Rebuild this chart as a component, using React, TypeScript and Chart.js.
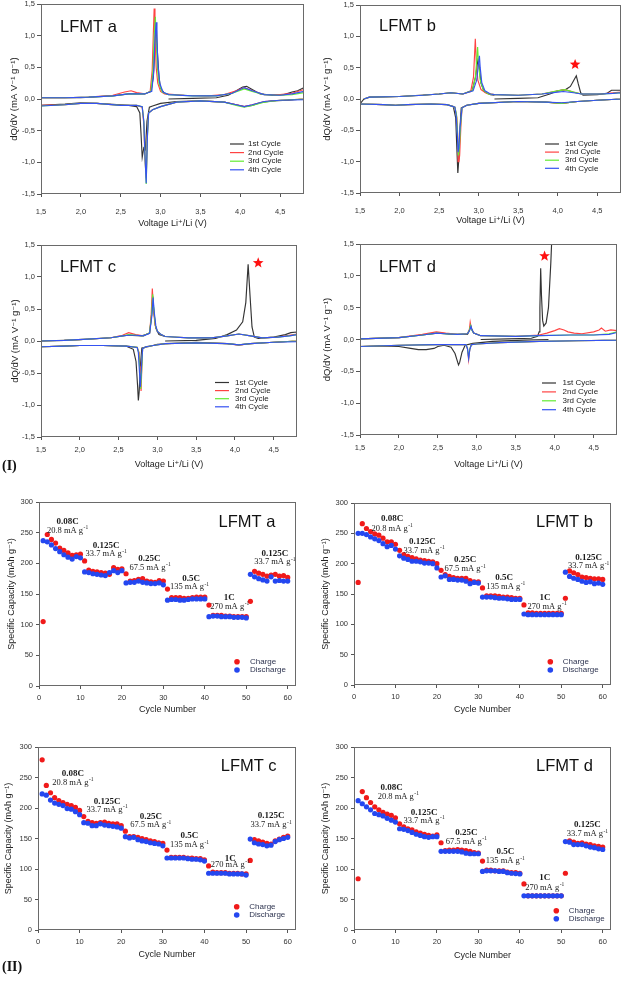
import React, { useEffect, useRef } from 'react';
import { Chart, registerables } from 'chart.js';

Chart.register(...registerables);

type Pt = [number, number];

const SANS = '"Liberation Sans", Arial, "DejaVu Sans", sans-serif';
const SERIF = '"Liberation Serif", "Times New Roman", serif';

// ---------------- Part (I): dQ/dV ----------------
const voltageTicks = [1.5, 2.0, 2.5, 3.0, 3.5, 4.0, 4.5];
const dqdvTicks = [-1.5, -1.0, -0.5, 0.0, 0.5, 1.0, 1.5];
const cycleLabels = ['1st Cycle', '2nd Cycle', '3rd Cycle', '4th Cycle'];
const cycleColors = ['#333333', '#ff4343', '#63ec34', '#3552f2'];

// LFMT a
const aCycle1: Pt[] = [
  [3.10, 0.00], [3.40, 0.01], [3.70, 0.02], [3.85, 0.06], [3.95, 0.13], [4.03, 0.19], [4.08, 0.20], [4.15, 0.15], [4.25, 0.08], [4.40, 0.06], [4.55, 0.07], [4.65, 0.11], [4.72, 0.13], [4.80, 0.18],
  [4.80, 0.00], [4.60, -0.02], [4.40, -0.03], [4.25, -0.06], [4.15, -0.10], [4.05, -0.12], [3.95, -0.09], [3.80, -0.05], [3.50, -0.03], [3.20, -0.04], [3.00, -0.07], [2.90, -0.11], [2.86, -0.13], [2.83, -0.35], [2.81, -0.80], [2.79, -0.77], [2.77, -0.92], [2.755, -0.55], [2.74, -0.22], [2.70, -0.12], [2.60, -0.10], [2.50, -0.09], [2.20, -0.07], [2.00, -0.06], [1.80, -0.08], [1.50, -0.10],
  [1.50, 0.02], [2.00, 0.02], [2.40, 0.05], [2.60, 0.08], [2.80, 0.08], [2.88, 0.12], [2.91, 0.35], [2.93, 0.85], [2.945, 1.20], [2.96, 0.75], [2.98, 0.35], [3.00, 0.17], [3.05, 0.09], [3.10, 0.07],
];
const aCycle2: Pt[] = [
  [1.50, 0.02], [1.80, 0.02], [2.10, 0.03], [2.40, 0.06], [2.55, 0.11], [2.63, 0.13], [2.70, 0.10], [2.80, 0.08], [2.87, 0.12], [2.895, 0.45], [2.91, 1.05], [2.92, 1.43], [2.93, 1.00], [2.945, 0.50], [2.965, 0.25], [3.00, 0.12], [3.05, 0.08], [3.30, 0.06], [3.60, 0.05], [3.80, 0.07], [3.95, 0.13], [4.05, 0.18], [4.15, 0.13], [4.30, 0.07], [4.50, 0.07], [4.65, 0.09], [4.80, 0.15],
  [4.80, 0.00], [4.50, -0.02], [4.30, -0.04], [4.15, -0.09], [4.05, -0.12], [3.95, -0.09], [3.80, -0.05], [3.50, -0.03], [3.20, -0.05], [3.00, -0.12], [2.90, -0.17], [2.85, -0.22], [2.835, -0.55], [2.82, -1.25], [2.805, -0.95], [2.79, -0.40], [2.77, -0.13], [2.70, -0.10], [2.50, -0.10], [2.20, -0.07], [2.00, -0.07], [1.80, -0.09], [1.50, -0.10],
];
const aCycle3: Pt[] = [
  [1.50, 0.02], [1.80, 0.02], [2.10, 0.03], [2.40, 0.05], [2.60, 0.08], [2.80, 0.08], [2.88, 0.12], [2.905, 0.45], [2.92, 1.00], [2.935, 1.30], [2.945, 0.95], [2.96, 0.50], [2.98, 0.25], [3.02, 0.11], [3.10, 0.07], [3.40, 0.05], [3.70, 0.05], [3.90, 0.09], [4.05, 0.16], [4.15, 0.12], [4.30, 0.07], [4.50, 0.06], [4.65, 0.07], [4.80, 0.10],
  [4.80, 0.00], [4.50, -0.02], [4.30, -0.05], [4.15, -0.10], [4.05, -0.13], [3.95, -0.10], [3.80, -0.05], [3.50, -0.03], [3.20, -0.05], [3.00, -0.12], [2.90, -0.17], [2.85, -0.22], [2.835, -0.60], [2.82, -1.34], [2.805, -0.90], [2.79, -0.35], [2.77, -0.12], [2.70, -0.10], [2.50, -0.10], [2.20, -0.07], [2.00, -0.07], [1.80, -0.09], [1.50, -0.11],
];
const aCycle4: Pt[] = [
  [1.50, 0.02], [1.80, 0.02], [2.10, 0.03], [2.40, 0.05], [2.60, 0.08], [2.80, 0.08], [2.89, 0.12], [2.915, 0.45], [2.93, 0.95], [2.945, 1.21], [2.955, 0.90], [2.97, 0.50], [2.99, 0.25], [3.03, 0.11], [3.10, 0.07], [3.40, 0.05], [3.70, 0.05], [3.90, 0.09], [4.05, 0.18], [4.15, 0.13], [4.30, 0.07], [4.50, 0.06], [4.65, 0.08], [4.80, 0.12],
  [4.80, -0.01], [4.50, -0.02], [4.30, -0.04], [4.15, -0.09], [4.05, -0.12], [3.95, -0.09], [3.80, -0.05], [3.50, -0.03], [3.20, -0.05], [3.00, -0.12], [2.90, -0.17], [2.85, -0.22], [2.835, -0.60], [2.82, -1.33], [2.805, -0.90], [2.79, -0.35], [2.77, -0.12], [2.70, -0.10], [2.50, -0.10], [2.20, -0.07], [2.00, -0.07], [1.80, -0.09], [1.50, -0.11],
];

// LFMT b
const bCycle1: Pt[] = [
  [3.20, 0.00], [3.50, 0.01], [3.75, 0.02], [3.90, 0.08], [4.00, 0.13], [4.10, 0.15], [4.16, 0.20], [4.20, 0.29], [4.235, 0.37], [4.26, 0.24], [4.29, 0.10], [4.32, 0.06], [4.50, 0.07], [4.62, 0.09], [4.68, 0.14], [4.80, 0.14],
  [4.80, 0.00], [4.50, -0.02], [4.25, -0.04], [4.05, -0.07], [3.85, -0.05], [3.50, -0.04], [3.00, -0.07], [2.85, -0.10], [2.78, -0.14], [2.765, -0.45], [2.75, -0.95], [2.737, -1.18], [2.725, -0.80], [2.71, -0.30], [2.68, -0.12], [2.60, -0.09], [2.40, -0.08], [2.10, -0.09], [1.95, -0.10], [1.80, -0.09], [1.50, -0.08],
  [1.55, 0.00], [1.62, 0.03], [2.00, 0.04], [2.50, 0.08], [2.65, 0.10], [2.80, 0.08], [2.92, 0.14], [2.96, 0.35], [2.99, 0.62], [3.005, 0.55], [3.03, 0.25], [3.07, 0.12], [3.15, 0.07], [3.20, 0.06],
];
const bCycle2: Pt[] = [
  [1.55, 0.00], [1.62, 0.03], [2.00, 0.04], [2.30, 0.06], [2.50, 0.08], [2.65, 0.10], [2.80, 0.08], [2.90, 0.12], [2.935, 0.35], [2.95, 0.75], [2.958, 0.96], [2.97, 0.60], [2.99, 0.30], [3.03, 0.15], [3.10, 0.09], [3.20, 0.07], [3.50, 0.06], [3.80, 0.08], [4.00, 0.13], [4.09, 0.15], [4.20, 0.11], [4.30, 0.08], [4.55, 0.08], [4.70, 0.10], [4.80, 0.11],
  [4.80, 0.00], [4.50, -0.02], [4.25, -0.04], [4.05, -0.07], [3.85, -0.05], [3.50, -0.04], [3.00, -0.07], [2.85, -0.10], [2.79, -0.14], [2.775, -0.45], [2.76, -0.90], [2.75, -1.00], [2.74, -0.70], [2.725, -0.30], [2.70, -0.13], [2.60, -0.09], [2.40, -0.08], [2.10, -0.09], [1.95, -0.10], [1.80, -0.09], [1.50, -0.08],
];
const bCycle3: Pt[] = [
  [1.55, 0.00], [1.62, 0.03], [2.00, 0.04], [2.30, 0.06], [2.50, 0.08], [2.65, 0.10], [2.80, 0.08], [2.92, 0.13], [2.96, 0.35], [2.977, 0.65], [2.987, 0.83], [2.997, 0.60], [3.02, 0.30], [3.06, 0.14], [3.12, 0.08], [3.20, 0.07], [3.50, 0.06], [3.80, 0.08], [4.00, 0.13], [4.09, 0.15], [4.20, 0.11], [4.30, 0.08], [4.55, 0.08], [4.70, 0.09], [4.80, 0.10],
  [4.80, 0.00], [4.50, -0.02], [4.25, -0.04], [4.05, -0.07], [3.85, -0.05], [3.50, -0.04], [3.00, -0.07], [2.85, -0.10], [2.79, -0.14], [2.77, -0.45], [2.755, -0.80], [2.745, -0.90], [2.735, -0.60], [2.72, -0.25], [2.70, -0.13], [2.60, -0.09], [2.40, -0.08], [2.10, -0.09], [1.95, -0.10], [1.80, -0.09], [1.50, -0.08],
];
const bCycle4: Pt[] = [
  [1.55, 0.00], [1.62, 0.03], [2.00, 0.04], [2.30, 0.06], [2.50, 0.08], [2.65, 0.10], [2.80, 0.08], [2.93, 0.13], [2.975, 0.30], [2.997, 0.55], [3.01, 0.69], [3.02, 0.50], [3.04, 0.26], [3.08, 0.13], [3.15, 0.08], [3.20, 0.07], [3.50, 0.06], [3.80, 0.08], [4.00, 0.11], [4.07, 0.12], [4.20, 0.10], [4.30, 0.08], [4.55, 0.08], [4.70, 0.09], [4.80, 0.10],
  [4.80, 0.00], [4.50, -0.02], [4.25, -0.04], [4.05, -0.06], [3.85, -0.05], [3.50, -0.04], [3.00, -0.07], [2.85, -0.10], [2.79, -0.14], [2.765, -0.45], [2.75, -0.78], [2.74, -0.85], [2.73, -0.55], [2.715, -0.25], [2.70, -0.13], [2.60, -0.09], [2.40, -0.08], [2.10, -0.09], [1.95, -0.10], [1.80, -0.09], [1.50, -0.08],
];

// LFMT c
const cCycle1: Pt[] = [
  [3.10, 0.00], [3.50, 0.01], [3.75, 0.04], [3.90, 0.10], [4.02, 0.17], [4.10, 0.30], [4.14, 0.60], [4.17, 1.20], [4.195, 0.70], [4.22, 0.22], [4.25, 0.06], [4.30, 0.04], [4.50, 0.06], [4.65, 0.10], [4.72, 0.13], [4.80, 0.14],
  [4.80, 0.00], [4.50, -0.02], [4.20, -0.04], [4.05, -0.06], [3.90, -0.04], [3.50, -0.02], [3.00, -0.05], [2.88, -0.09], [2.80, -0.11], [2.78, -0.40], [2.765, -0.80], [2.755, -0.93], [2.745, -0.70], [2.725, -0.32], [2.69, -0.13], [2.60, -0.08], [2.30, -0.07], [2.00, -0.07], [1.80, -0.08], [1.50, -0.09],
  [1.50, 0.00], [2.00, 0.02], [2.40, 0.05], [2.62, 0.09], [2.80, 0.08], [2.90, 0.12], [2.925, 0.40], [2.94, 0.70], [2.955, 0.45], [2.98, 0.20], [3.02, 0.10], [3.10, 0.07],
];
const cCycle2: Pt[] = [
  [1.50, 0.00], [1.80, 0.01], [2.10, 0.03], [2.40, 0.05], [2.55, 0.09], [2.63, 0.13], [2.72, 0.10], [2.82, 0.08], [2.90, 0.13], [2.92, 0.40], [2.935, 0.82], [2.95, 0.50], [2.97, 0.25], [3.00, 0.15], [3.05, 0.10], [3.10, 0.07], [3.40, 0.05], [3.70, 0.05], [3.90, 0.08], [4.05, 0.11], [4.20, 0.08], [4.35, 0.05], [4.55, 0.06], [4.70, 0.09], [4.80, 0.11],
  [4.80, 0.00], [4.50, -0.02], [4.20, -0.04], [4.05, -0.065], [3.90, -0.04], [3.50, -0.03], [3.10, -0.04], [2.95, -0.07], [2.85, -0.09], [2.81, -0.12], [2.80, -0.40], [2.79, -0.78], [2.78, -0.55], [2.765, -0.18], [2.74, -0.10], [2.60, -0.08], [2.30, -0.07], [2.00, -0.07], [1.80, -0.08], [1.50, -0.09],
];
const cCycle3: Pt[] = [
  [1.50, 0.00], [1.80, 0.01], [2.10, 0.03], [2.40, 0.05], [2.55, 0.08], [2.63, 0.10], [2.72, 0.09], [2.82, 0.08], [2.90, 0.13], [2.925, 0.40], [2.94, 0.73], [2.955, 0.48], [2.975, 0.24], [3.00, 0.15], [3.05, 0.10], [3.10, 0.07], [3.40, 0.05], [3.70, 0.05], [3.90, 0.08], [4.05, 0.11], [4.20, 0.08], [4.35, 0.05], [4.55, 0.06], [4.70, 0.08], [4.80, 0.10],
  [4.80, 0.00], [4.50, -0.02], [4.20, -0.04], [4.05, -0.06], [3.90, -0.04], [3.50, -0.03], [3.10, -0.04], [2.95, -0.07], [2.85, -0.09], [2.81, -0.12], [2.80, -0.40], [2.785, -0.75], [2.775, -0.50], [2.76, -0.18], [2.74, -0.10], [2.60, -0.08], [2.30, -0.07], [2.00, -0.07], [1.80, -0.08], [1.50, -0.09],
];
const cCycle4: Pt[] = [
  [1.50, 0.00], [1.80, 0.01], [2.10, 0.03], [2.40, 0.05], [2.55, 0.08], [2.63, 0.09], [2.72, 0.09], [2.82, 0.08], [2.90, 0.12], [2.93, 0.40], [2.945, 0.68], [2.96, 0.45], [2.98, 0.24], [3.00, 0.15], [3.05, 0.10], [3.10, 0.07], [3.40, 0.05], [3.70, 0.05], [3.90, 0.08], [4.05, 0.11], [4.20, 0.08], [4.35, 0.05], [4.55, 0.06], [4.70, 0.08], [4.80, 0.10],
  [4.80, -0.01], [4.50, -0.02], [4.20, -0.04], [4.05, -0.06], [3.90, -0.04], [3.50, -0.03], [3.10, -0.04], [2.95, -0.07], [2.85, -0.09], [2.81, -0.12], [2.795, -0.40], [2.78, -0.72], [2.77, -0.50], [2.755, -0.18], [2.74, -0.10], [2.60, -0.08], [2.30, -0.07], [2.00, -0.07], [1.80, -0.08], [1.50, -0.09],
];

// LFMT d
const dCycle1Start: Pt[] = [
  [3.05, 0.00], [3.40, 0.01], [3.70, 0.02], [3.78, 0.05], [3.80, 0.12], [3.81, 0.50], [3.82, 1.12], [3.83, 0.70], [3.845, 0.30], [3.86, 0.21], [3.89, 0.26], [3.92, 0.50], [3.95, 1.20], [3.97, 1.80], [3.99, 2.40],
];
const dCycle1: Pt[] = [
  [3.92, 0.00], [3.60, -0.01], [3.20, -0.03], [2.95, -0.06], [2.85, -0.09], [2.81, -0.20], [2.78, -0.36], [2.765, -0.40], [2.745, -0.32], [2.72, -0.22], [2.67, -0.12], [2.58, -0.09], [2.50, -0.11], [2.45, -0.14], [2.35, -0.16], [2.25, -0.16], [2.15, -0.14], [2.00, -0.11], [1.80, -0.10], [1.50, -0.11],
  [1.50, 0.01], [2.00, 0.03], [2.30, 0.07], [2.50, 0.10], [2.70, 0.08], [2.88, 0.08], [2.905, 0.14], [2.92, 0.22], [2.935, 0.16], [2.96, 0.10], [3.05, 0.06],
];
const dCycle2: Pt[] = [
  [1.50, 0.01], [2.00, 0.03], [2.30, 0.08], [2.48, 0.12], [2.60, 0.10], [2.75, 0.08], [2.88, 0.09], [2.905, 0.16], [2.915, 0.27], [2.93, 0.17], [2.96, 0.10], [3.05, 0.06], [3.50, 0.05], [3.80, 0.07], [3.90, 0.10], [4.00, 0.14], [4.06, 0.17], [4.12, 0.15], [4.17, 0.12], [4.25, 0.10], [4.35, 0.09], [4.50, 0.12], [4.57, 0.15], [4.60, 0.18], [4.65, 0.13], [4.72, 0.15], [4.80, 0.14],
  [4.80, -0.01], [4.30, -0.02], [3.80, -0.03], [3.30, -0.05], [3.00, -0.07], [2.93, -0.08], [2.91, -0.15], [2.895, -0.32], [2.88, -0.15], [2.86, -0.08], [2.70, -0.08], [2.50, -0.08], [2.00, -0.09], [1.50, -0.11],
];
const dCycle3: Pt[] = [
  [1.50, 0.01], [2.00, 0.03], [2.30, 0.07], [2.48, 0.10], [2.60, 0.09], [2.75, 0.08], [2.88, 0.09], [2.905, 0.15], [2.92, 0.22], [2.935, 0.15], [2.96, 0.10], [3.05, 0.06], [3.50, 0.05], [3.80, 0.06], [4.20, 0.07], [4.50, 0.07], [4.70, 0.09], [4.80, 0.12],
  [4.80, -0.01], [4.30, -0.02], [3.80, -0.03], [3.30, -0.05], [3.00, -0.07], [2.93, -0.08], [2.91, -0.15], [2.895, -0.28], [2.88, -0.14], [2.86, -0.08], [2.70, -0.08], [2.50, -0.08], [2.00, -0.09], [1.50, -0.11],
];
const dCycle4: Pt[] = [
  [1.50, 0.01], [2.00, 0.03], [2.30, 0.07], [2.48, 0.10], [2.60, 0.09], [2.75, 0.08], [2.88, 0.09], [2.91, 0.15], [2.925, 0.21], [2.94, 0.15], [2.96, 0.10], [3.05, 0.06], [3.50, 0.05], [3.80, 0.06], [4.20, 0.07], [4.50, 0.07], [4.70, 0.08], [4.80, 0.11],
  [4.80, -0.01], [4.30, -0.02], [3.80, -0.03], [3.30, -0.05], [3.00, -0.07], [2.93, -0.08], [2.91, -0.16], [2.895, -0.30], [2.88, -0.14], [2.86, -0.08], [2.70, -0.08], [2.50, -0.08], [2.00, -0.09], [1.50, -0.11],
];

// star markers (V, dQ/dV)
const starB: Pt[] = [[4.22, 0.55]];
const starC: Pt[] = [[4.30, 1.22]];
const starD: Pt[] = [[3.87, 1.31]];

// ---------------- Part (II): rate capability ----------------
const cycleNumbers = [
  1, 2, 3, 4, 5, 6, 7, 8, 9, 10, 11, 12, 13, 14, 15, 16, 17, 18, 19, 20,
  21, 22, 23, 24, 25, 26, 27, 28, 29, 30, 31, 32, 33, 34, 35, 36, 37, 38, 39, 40,
  41, 42, 43, 44, 45, 46, 47, 48, 49, 50, 51, 52, 53, 54, 55, 56, 57, 58, 59, 60,
];
const cycleTicks = [0, 10, 20, 30, 40, 50, 60];
const capacityTicks = [0, 50, 100, 150, 200, 250, 300];

const aCharge = [105, 247, 239, 233, 225, 221, 217, 213, 214, 215, 204, 189, 187, 186, 185, 184, 182, 193, 190, 191, 183, 171, 172, 174, 175, 171, 170, 169, 172, 171, 158, 144, 144, 144, 143, 143, 144, 145, 145, 145, 132, 115, 115, 115, 114, 114, 113, 113, 113, 113, 138, 187, 184, 182, 179, 181, 182, 179, 180, 177];
const aDischarge = [237, 235, 230, 224, 219, 214, 210, 207, 211, 209, 186, 185, 183, 182, 181, 180, 185, 188, 185, 188, 168, 169, 169, 171, 169, 168, 167, 167, 168, 165, 140, 141, 141, 140, 140, 141, 142, 142, 142, 142, 113, 114, 114, 113, 113, 113, 112, 112, 112, 111, 182, 178, 175, 173, 171, 178, 171, 172, 171, 171];
const bCharge = [169, 266, 258, 253, 249, 247, 242, 236, 236, 232, 222, 215, 212, 210, 208, 206, 205, 204, 203, 200, 189, 182, 179, 177, 176, 176, 176, 172, 170, 170, 160, 147, 147, 147, 146, 145, 145, 144, 143, 143, 132, 119, 119, 118, 118, 118, 118, 118, 118, 118, 143, 188, 185, 182, 178, 177, 176, 175, 175, 174];
const bDischarge = [250, 250, 248, 244, 241, 238, 233, 228, 230, 224, 213, 209, 207, 204, 204, 203, 201, 201, 200, 193, 178, 180, 174, 174, 173, 173, 171, 167, 169, 168, 145, 145, 145, 144, 143, 143, 142, 141, 141, 141, 117, 116, 116, 116, 116, 116, 116, 116, 116, 116, 186, 179, 176, 174, 171, 169, 170, 167, 168, 166];
const cCharge = [279, 237, 225, 217, 212, 209, 206, 204, 201, 196, 186, 178, 176, 175, 176, 177, 175, 174, 174, 171, 162, 153, 153, 152, 150, 148, 146, 145, 143, 142, 131, 119, 119, 119, 119, 118, 118, 117, 117, 115, 105, 95, 94, 94, 94, 93, 93, 93, 92, 92, 114, 148, 146, 144, 142, 141, 146, 149, 152, 154];
const cDischarge = [223, 221, 213, 208, 206, 204, 199, 198, 194, 189, 176, 175, 171, 171, 174, 172, 171, 170, 169, 167, 153, 151, 152, 148, 146, 145, 143, 142, 141, 138, 118, 118, 118, 118, 118, 117, 116, 116, 115, 113, 93, 93, 93, 93, 93, 92, 92, 92, 92, 90, 149, 143, 141, 140, 138, 139, 145, 148, 150, 152];
const dCharge = [84, 227, 217, 209, 202, 197, 193, 190, 188, 184, 174, 169, 166, 164, 161, 159, 157, 155, 154, 156, 143, 130, 131, 131, 132, 131, 130, 129, 127, 126, 113, 98, 98, 97, 97, 97, 95, 94, 94, 93, 75.5, 56, 56, 56, 56, 56, 56, 56, 56, 56, 93, 146, 144, 142, 143, 141, 140, 138, 137, 136];
const dDischarge = [212, 207, 202, 197, 191, 189, 187, 183, 180, 177, 166, 165, 163, 160, 157, 155, 153, 152, 153, 153, 129, 129, 129, 129, 129, 128, 126, 125, 125, 125, 96, 97, 97, 97, 96, 96, 94, 93, 92.5, 92, 56, 56, 56, 56, 56, 56, 56, 56, 56, 56, 145, 144, 140, 140, 140, 138, 136, 135, 133, 132];

const rateLabels = ['0.08C', '0.125C', '0.25C', '0.5C', '1C', '0.125C'];
const currentLabels = ['20.8 mA g', '33.7 mA g', '67.5 mA g', '135 mA g', '270 mA g', '33.7 mA g'];
const seriesLabels = ['Charge', 'Discharge'];
const seriesColors = ['#f01a1a', '#2447f0'];

// annotation anchors (cycle, capacity) per panel
const aRateX = [6.9, 16.2, 26.6, 36.7, 45.9, 56.9];
const aRateY = [268, 229, 208, 175.6, 144, 216];
const aCurX = [6.9, 16.2, 26.8, 36.3, 46.0, 56.9];
const aCurY = [253, 215, 193, 161, 130, 202];
const bRateX = [9.2, 16.5, 26.8, 36.2, 46.1, 56.6];
const bRateY = [273.6, 236, 206, 177, 144.6, 210];
const bCurX = [9.2, 16.9, 26.8, 36.6, 46.6, 56.6];
const bCurY = [257.7, 221, 191, 161.5, 129, 196];
const cRateX = [8.4, 16.6, 27.1, 36.4, 46.2, 56.0];
const cRateY = [255.7, 211, 185.7, 154.6, 117.5, 187];
const cCurX = [8.4, 16.6, 27.1, 36.4, 46.2, 56.0];
const cCurY = [241, 196.7, 172, 139, 106.5, 172];
const dRateX = [9.1, 16.9, 27.1, 36.5, 46.0, 56.3];
const dRateY = [234, 193, 160, 128.4, 85.7, 172];
const dCurX = [10.7, 16.9, 27.1, 36.5, 46.0, 56.3];
const dCurY = [219, 179, 144.8, 113, 69, 157];

// ---------------- drawing helpers ----------------
type Geom = {
  box: { x: number; y: number; w: number; h: number };
  plot: { l: number; t: number; r: number; b: number };
  yTitleX: number;
  xTitleY: number;
};

function computeLayout(g: Geom, ySize: number, xSize: number) {
  const padL = g.yTitleX - 0.6 * ySize - g.box.x;
  const yW = g.plot.l - g.box.x - padL;
  const padT = g.plot.t - g.box.y;
  const padR = g.box.x + g.box.w - g.plot.r;
  const padB = g.box.y + g.box.h - (g.xTitleY + 0.6 * xSize);
  const xH = g.box.y + g.box.h - padB - g.plot.b;
  return { padL, padT, padR, padB, yW, xH };
}

function drawStar(ctx: CanvasRenderingContext2D, cx: number, cy: number, ro: number, ri: number) {
  ctx.beginPath();
  for (let i = 0; i < 10; i++) {
    const r = i % 2 === 0 ? ro : ri;
    const a = -Math.PI / 2 + (i * Math.PI) / 5;
    const px = cx + r * Math.cos(a);
    const py = cy + r * Math.sin(a);
    if (i === 0) ctx.moveTo(px, py);
    else ctx.lineTo(px, py);
  }
  ctx.closePath();
  ctx.fill();
}

function drawSup(ctx: CanvasRenderingContext2D, main: string, sup: string, cx: number, cy: number, mainFont: string, supFont: string) {
  ctx.font = mainFont;
  const w1 = ctx.measureText(main).width;
  ctx.font = supFont;
  const w2 = ctx.measureText(sup).width;
  const x0 = cx - (w1 + w2 + 0.5) / 2;
  ctx.textAlign = 'left';
  ctx.textBaseline = 'middle';
  ctx.font = mainFont;
  ctx.fillText(main, x0, cy);
  ctx.font = supFont;
  ctx.fillText(sup, x0 + w1 + 0.5, cy - 3);
}

type Overlay = {
  label: string;
  labelFromRight: boolean;
  labelX: number;
  labelY: number;
  legendKind: 'line' | 'dot';
  legendX: number; // from chart right
  legendY: number; // from chart bottom
  legendGap: number;
  legendTextDx: number;
  stars: Pt[];
  notes?: { rx: number[]; ry: number[]; cx: number[]; cy: number[] };
};

function makeOverlay(o: Overlay) {
  return {
    id: 'panelOverlay',
    afterDatasetsDraw(chart: any) {
      const { ctx, chartArea: ca, scales } = chart;
      const xs = scales.x;
      const ys = scales.y;
      ctx.save();
      // frame
      ctx.strokeStyle = '#6a6a6a';
      ctx.lineWidth = 1;
      ctx.strokeRect(Math.round(ca.left) + 0.5, Math.round(ca.top) + 0.5, Math.round(ca.right - ca.left) - 1, Math.round(ca.bottom - ca.top) - 1);
      // stars
      ctx.fillStyle = '#ff1010';
      for (const s of o.stars) {
        drawStar(ctx, xs.getPixelForValue(s[0]), ys.getPixelForValue(s[1]), 5.6, 2.4);
      }
      // notes
      if (o.notes) {
        ctx.fillStyle = '#1a1a1a';
        for (let i = 0; i < rateLabels.length; i++) {
          ctx.font = `bold 9px ${SERIF}`;
          ctx.textAlign = 'center';
          ctx.textBaseline = 'middle';
          ctx.fillText(rateLabels[i], xs.getPixelForValue(o.notes.rx[i]), ys.getPixelForValue(o.notes.ry[i]));
          drawSup(ctx, currentLabels[i], '-1', xs.getPixelForValue(o.notes.cx[i]), ys.getPixelForValue(o.notes.cy[i]), `8.5px ${SERIF}`, `5.5px ${SERIF}`);
        }
      }
      // panel label
      ctx.fillStyle = '#111';
      ctx.font = `16.5px ${SANS}`;
      ctx.textAlign = 'left';
      ctx.textBaseline = 'alphabetic';
      const lx = o.labelFromRight ? ca.right + o.labelX : ca.left + o.labelX;
      ctx.fillText(o.label, lx, ca.top + o.labelY);
      // legend
      const names = o.legendKind === 'line' ? cycleLabels : seriesLabels;
      const cols = o.legendKind === 'line' ? cycleColors : seriesColors;
      ctx.font = `8px ${SANS}`;
      ctx.textBaseline = 'middle';
      for (let i = 0; i < names.length; i++) {
        const y = ca.bottom + o.legendY + i * o.legendGap;
        const x = ca.right + o.legendX;
        if (o.legendKind === 'line') {
          ctx.strokeStyle = cols[i];
          ctx.lineWidth = 1.2;
          ctx.beginPath();
          ctx.moveTo(x, y);
          ctx.lineTo(x + 14, y);
          ctx.stroke();
        } else {
          ctx.fillStyle = cols[i];
          ctx.beginPath();
          ctx.arc(x, y, 2.8, 0, Math.PI * 2);
          ctx.fill();
        }
        ctx.fillStyle = o.legendKind === 'line' ? '#222' : '#2e3450';
        ctx.fillText(names[i], x + o.legendTextDx, y);
      }
      ctx.restore();
    },
  };
}

type Panel = {
  kind: 'dq' | 'cap';
  geom: Geom;
  overlay: Overlay;
  cycles?: Pt[][][];
  charge?: number[];
  discharge?: number[];
  labelPad?: number;
};

const fmtComma = (v: number) => v.toFixed(1).replace('.', ',');

function buildConfig(p: Panel): any {
  const isDq = p.kind === 'dq';
  const ySize = isDq ? 9.5 : 9;
  const xSize = 9;
  const L = computeLayout(p.geom, ySize, xSize);
  let datasets: any[] = [];
  if (isDq && p.cycles) {
    const order = [3, 2, 1, 0];
    for (const ci of order) {
      for (const seg of p.cycles[ci]) {
        datasets.push({
          label: cycleLabels[ci],
          data: seg.map(([x, y]) => ({ x, y })),
          showLine: true,
          borderColor: cycleColors[ci],
          backgroundColor: cycleColors[ci],
          borderWidth: 1.15,
          pointRadius: 0,
          tension: 0,
          fill: false,
        });
      }
    }
  } else if (p.charge && p.discharge) {
    datasets = [
      {
        label: seriesLabels[1],
        data: cycleNumbers.map((c, i) => ({ x: c, y: p.discharge![i] })),
        backgroundColor: seriesColors[1],
        borderWidth: 0,
        pointRadius: 2.6,
      },
      {
        label: seriesLabels[0],
        data: cycleNumbers.map((c, i) => ({ x: c, y: p.charge![i] })),
        backgroundColor: seriesColors[0],
        borderWidth: 0,
        pointRadius: 2.6,
      },
    ];
  }
  const tickFont = { family: SANS, size: 7.5 };
  const gridCfg = { drawOnChartArea: false, drawTicks: true, tickLength: 3, color: '#555', lineWidth: 1 };
  return {
    type: 'scatter',
    data: { datasets },
    plugins: [makeOverlay(p.overlay)],
    options: {
      responsive: false,
      animation: false,
      events: [],
      layout: { padding: { left: L.padL, top: L.padT, right: L.padR, bottom: L.padB } },
      plugins: { legend: { display: false }, tooltip: { enabled: false } },
      scales: {
        x: {
          type: 'linear',
          position: 'bottom',
          min: isDq ? 1.5 : 0,
          max: isDq ? 4.8 : 62,
          afterBuildTicks: (s: any) => {
            s.ticks = (isDq ? voltageTicks : cycleTicks).map((v) => ({ value: v }));
          },
          afterFit: (s: any) => {
            s.height = L.xH;
          },
          ticks: {
            autoSkip: false,
            maxRotation: 0,
            font: tickFont,
            color: '#333',
            padding: p.labelPad ?? 4,
            callback: (v: any) => (isDq ? fmtComma(Number(v)) : String(v)),
          },
          grid: gridCfg,
          border: { display: false },
          title: {
            display: true,
            text: isDq ? 'Voltage Li\u207A/Li (V)' : 'Cycle Number',
            font: { family: SANS, size: xSize },
            color: '#222',
            padding: 0,
          },
        },
        y: {
          type: 'linear',
          position: 'left',
          min: isDq ? -1.5 : 0,
          max: isDq ? 1.5 : 300,
          afterBuildTicks: (s: any) => {
            s.ticks = (isDq ? dqdvTicks : capacityTicks).map((v) => ({ value: v }));
          },
          afterFit: (s: any) => {
            s.width = L.yW;
          },
          ticks: {
            autoSkip: false,
            font: tickFont,
            color: '#333',
            padding: isDq ? 2 : 3,
            callback: (v: any) => (isDq ? fmtComma(Number(v)) : String(v)),
          },
          grid: { ...gridCfg, tickLength: isDq ? 4 : 3 },
          border: { display: false },
          title: {
            display: true,
            text: isDq ? 'dQ/dV (mA V\u207B\u00B9 g\u207B\u00B9)' : 'Specific Capacity (mAh g\u207B\u00B9)',
            font: { family: SANS, size: ySize },
            color: '#222',
            padding: 0,
          },
        },
      },
    },
  };
}

const panels: Panel[] = [
  {
    kind: 'dq',
    geom: { box: { x: 0, y: -10, w: 312, h: 242 }, plot: { l: 41, t: 4, r: 304, b: 194 }, yTitleX: 14, xTitleY: 224 },
    cycles: [[aCycle1], [aCycle2], [aCycle3], [aCycle4]],
    labelPad: 10,
    overlay: { label: 'LFMT a', labelFromRight: false, labelX: 19, labelY: 27.5, legendKind: 'line', legendGap: 8.6, legendTextDx: 18, legendX: -74, legendY: -50, stars: [] },
  },
  {
    kind: 'dq',
    geom: { box: { x: 312, y: -10, w: 312, h: 242 }, plot: { l: 360, t: 5, r: 621, b: 193 }, yTitleX: 327, xTitleY: 221 },
    cycles: [[bCycle1], [bCycle2], [bCycle3], [bCycle4]],
    labelPad: 10,
    overlay: { label: 'LFMT b', labelFromRight: false, labelX: 19, labelY: 25.5, legendKind: 'line', legendGap: 8.1, legendTextDx: 20, legendX: -76, legendY: -49, stars: starB },
  },
  {
    kind: 'dq',
    geom: { box: { x: 0, y: 232, w: 312, h: 244 }, plot: { l: 41, t: 245, r: 297, b: 437 }, yTitleX: 15, xTitleY: 465 },
    cycles: [[cCycle1], [cCycle2], [cCycle3], [cCycle4]],
    labelPad: 5,
    overlay: { label: 'LFMT c', labelFromRight: false, labelX: 19, labelY: 26.5, legendKind: 'line', legendGap: 8.1, legendTextDx: 20, legendX: -82, legendY: -54.5, stars: starC },
  },
  {
    kind: 'dq',
    geom: { box: { x: 312, y: 232, w: 312, h: 244 }, plot: { l: 360, t: 244, r: 617, b: 435 }, yTitleX: 327, xTitleY: 465 },
    cycles: [[dCycle1Start, dCycle1], [dCycle2], [dCycle3], [dCycle4]],
    labelPad: 5,
    overlay: { label: 'LFMT d', labelFromRight: false, labelX: 19, labelY: 28, legendKind: 'line', legendGap: 8.9, legendTextDx: 20.5, legendX: -75, legendY: -52, stars: starD },
  },
  {
    kind: 'cap',
    geom: { box: { x: 0, y: 478, w: 312, h: 246 }, plot: { l: 39, t: 502, r: 296, b: 686 }, yTitleX: 12, xTitleY: 710 },
    charge: aCharge,
    discharge: aDischarge,
    overlay: { label: 'LFMT a', labelFromRight: true, labelX: -77.5, labelY: 25.3, legendKind: 'dot', legendGap: 8.3, legendTextDx: 13, legendX: -59, legendY: -24.3, stars: [], notes: { rx: aRateX, ry: aRateY, cx: aCurX, cy: aCurY } },
  },
  {
    kind: 'cap',
    geom: { box: { x: 312, y: 478, w: 312, h: 246 }, plot: { l: 354, t: 503, r: 611, b: 685 }, yTitleX: 325.3, xTitleY: 710 },
    charge: bCharge,
    discharge: bDischarge,
    overlay: { label: 'LFMT b', labelFromRight: true, labelX: -75, labelY: 24.3, legendKind: 'dot', legendGap: 8.3, legendTextDx: 12.4, legendX: -60.7, legendY: -23.3, stars: [], notes: { rx: bRateX, ry: bRateY, cx: bCurX, cy: bCurY } },
  },
  {
    kind: 'cap',
    geom: { box: { x: 0, y: 724, w: 312, h: 256 }, plot: { l: 38, t: 747, r: 296, b: 930 }, yTitleX: 9, xTitleY: 955 },
    charge: cCharge,
    discharge: cDischarge,
    overlay: { label: 'LFMT c', labelFromRight: true, labelX: -75.3, labelY: 24, legendKind: 'dot', legendGap: 8.3, legendTextDx: 12.6, legendX: -59.3, legendY: -23.3, stars: [], notes: { rx: cRateX, ry: cRateY, cx: cCurX, cy: cCurY } },
  },
  {
    kind: 'cap',
    geom: { box: { x: 312, y: 724, w: 312, h: 256 }, plot: { l: 354, t: 747, r: 611, b: 930 }, yTitleX: 325.3, xTitleY: 955.7 },
    charge: dCharge,
    discharge: dDischarge,
    overlay: { label: 'LFMT d', labelFromRight: true, labelX: -75, labelY: 24, legendKind: 'dot', legendGap: 8, legendTextDx: 12.4, legendX: -54.7, legendY: -19.3, stars: [], notes: { rx: dRateX, ry: dRateY, cx: dCurX, cy: dCurY } },
  },
];

function PanelCanvas({ panel }: { panel: Panel }) {
  const ref = useRef<HTMLCanvasElement>(null);
  useEffect(() => {
    if (!ref.current) return;
    const chart = new Chart(ref.current, buildConfig(panel));
    return () => chart.destroy();
  }, [panel]);
  const b = panel.geom.box;
  return (
    <canvas
      ref={ref}
      width={b.w}
      height={b.h}
      style={{ position: 'absolute', left: b.x, top: b.y, width: b.w, height: b.h }}
    />
  );
}

export default function App() {
  return (
    <div style={{ position: 'fixed', left: 0, top: 0, width: 624, height: 1000, background: '#fff', overflow: 'hidden' }}>
      {panels.map((p, i) => (
        <PanelCanvas key={i} panel={p} />
      ))}
      <div style={{ position: 'absolute', left: 2, top: 458, font: `bold 14px ${SERIF}`, lineHeight: '16px', color: '#111' }}>(I)</div>
      <div style={{ position: 'absolute', left: 2, top: 959, font: `bold 14px ${SERIF}`, lineHeight: '16px', color: '#111' }}>(II)</div>
    </div>
  );
}
